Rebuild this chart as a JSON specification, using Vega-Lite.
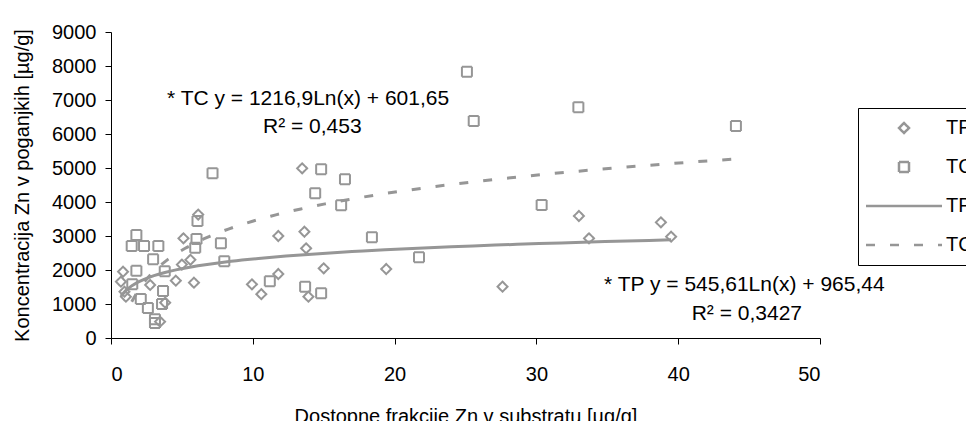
{
  "$schema": "https://vega.github.io/schema/vega-lite/v6.json",
  "width": 709,
  "height": 306,
  "autosize": {"type": "none"},
  "padding": {"left": 111, "top": 32, "right": 146, "bottom": 83},
  "background": "white",
  "config": {
    "font": "Liberation Sans",
    "view": {"stroke": null},
    "axis": {
      "grid": false,
      "domainColor": "black",
      "tickColor": "black",
      "labelColor": "black",
      "titleColor": "black",
      "labelFontSize": 20,
      "titleFontSize": 20,
      "titleFontWeight": "normal",
      "labelFont": "Liberation Sans",
      "titleFont": "Liberation Sans",
      "tickSize": 6
    }
  },
  "datasets": {
    "pts": [
      {"x": 0.7, "y": 1656, "series": "TP"},
      {"x": 0.85, "y": 1950, "series": "TP"},
      {"x": 0.95, "y": 1362, "series": "TP"},
      {"x": 1.05, "y": 1215, "series": "TP"},
      {"x": 2.76, "y": 1560, "series": "TP"},
      {"x": 3.82, "y": 1040, "series": "TP"},
      {"x": 3.46, "y": 480, "series": "TP"},
      {"x": 4.57, "y": 1686, "series": "TP"},
      {"x": 5.0, "y": 2160, "series": "TP"},
      {"x": 5.11, "y": 2932, "series": "TP"},
      {"x": 5.6, "y": 2300, "series": "TP"},
      {"x": 5.85, "y": 1627, "series": "TP"},
      {"x": 6.15, "y": 3630, "series": "TP"},
      {"x": 9.94, "y": 1578, "series": "TP"},
      {"x": 10.6, "y": 1290, "series": "TP"},
      {"x": 11.8, "y": 3000, "series": "TP"},
      {"x": 11.8, "y": 1882, "series": "TP"},
      {"x": 13.48, "y": 4990, "series": "TP"},
      {"x": 13.64, "y": 3126, "series": "TP"},
      {"x": 13.76, "y": 2637, "series": "TP"},
      {"x": 13.92, "y": 1216, "series": "TP"},
      {"x": 15.0, "y": 2049, "series": "TP"},
      {"x": 19.41, "y": 2029, "series": "TP"},
      {"x": 27.61, "y": 1510, "series": "TP"},
      {"x": 33.0, "y": 3588, "series": "TP"},
      {"x": 33.71, "y": 2932, "series": "TP"},
      {"x": 38.78, "y": 3402, "series": "TP"},
      {"x": 39.5, "y": 2980, "series": "TP"},
      {"x": 1.79, "y": 3030, "series": "TC"},
      {"x": 1.46, "y": 2706, "series": "TC"},
      {"x": 2.33, "y": 2706, "series": "TC"},
      {"x": 3.34, "y": 2706, "series": "TC"},
      {"x": 2.97, "y": 2314, "series": "TC"},
      {"x": 1.79, "y": 1980, "series": "TC"},
      {"x": 3.79, "y": 1960, "series": "TC"},
      {"x": 1.5, "y": 1580, "series": "TC"},
      {"x": 3.67, "y": 1382, "series": "TC"},
      {"x": 2.1, "y": 1150, "series": "TC"},
      {"x": 2.6, "y": 880, "series": "TC"},
      {"x": 3.6, "y": 1000, "series": "TC"},
      {"x": 3.1, "y": 550, "series": "TC"},
      {"x": 3.1, "y": 440, "series": "TC"},
      {"x": 5.94, "y": 2656, "series": "TC"},
      {"x": 6.03, "y": 2912, "series": "TC"},
      {"x": 6.1, "y": 3441, "series": "TC"},
      {"x": 7.16, "y": 4843, "series": "TC"},
      {"x": 7.75, "y": 2785, "series": "TC"},
      {"x": 7.99, "y": 2260, "series": "TC"},
      {"x": 11.2, "y": 1666, "series": "TC"},
      {"x": 13.69, "y": 1510, "series": "TC"},
      {"x": 14.4, "y": 4255, "series": "TC"},
      {"x": 14.82, "y": 4960, "series": "TC"},
      {"x": 14.82, "y": 1314, "series": "TC"},
      {"x": 16.23, "y": 3902, "series": "TC"},
      {"x": 16.5, "y": 4667, "series": "TC"},
      {"x": 18.4, "y": 2961, "series": "TC"},
      {"x": 21.72, "y": 2372, "series": "TC"},
      {"x": 25.1, "y": 7833, "series": "TC"},
      {"x": 25.58, "y": 6382, "series": "TC"},
      {"x": 30.37, "y": 3912, "series": "TC"},
      {"x": 32.96, "y": 6785, "series": "TC"},
      {"x": 44.07, "y": 6235, "series": "TC"}
    ],
    "notes": [
      {"x": 3.95, "y": 7040, "text": "* TC y = 1216,9Ln(x) + 601,65"},
      {"x": 10.72, "y": 6194, "text": "R² = 0,453"},
      {"x": 34.77, "y": 1547, "text": "* TP y = 545,61Ln(x) + 965,44"},
      {"x": 40.95, "y": 694, "text": "R² = 0,3427"}
    ]
  },
  "encoding": {
    "x": {
      "field": "x",
      "type": "quantitative",
      "scale": {"domain": [0, 50], "nice": false},
      "axis": {
        "title": "Dostopne frakcije Zn v substratu [µg/g]",
        "values": [0, 10, 20, 30, 40, 50],
        "labelPadding": 20,
        "titlePadding": 22
      }
    },
    "y": {
      "field": "y",
      "type": "quantitative",
      "scale": {"domain": [0, 9000], "nice": false},
      "axis": {
        "title": "Koncentracija Zn v poganjkih [µg/g]",
        "values": [0, 1000, 2000, 3000, 4000, 5000, 6000, 7000, 8000, 9000],
        "format": "d",
        "labelPadding": 9,
        "titlePadding": 19
      }
    }
  },
  "layer": [
    {
      "data": {"name": "pts"},
      "transform": [
        {"filter": "datum.series == 'TP'"},
        {"regression": "y", "on": "x", "method": "log"}
      ],
      "mark": {"type": "line", "color": "#969696", "strokeWidth": 3, "strokeCap": "butt"},
      "encoding": {}
    },
    {
      "data": {"name": "pts"},
      "transform": [
        {"filter": "datum.series == 'TC'"},
        {"regression": "y", "on": "x", "method": "log"}
      ],
      "mark": {"type": "line", "color": "#969696", "strokeWidth": 3, "strokeCap": "butt", "strokeDash": [9, 15]},
      "encoding": {}
    },
    {
      "data": {"name": "pts"},
      "mark": {"type": "point", "filled": false, "color": "#969696", "strokeWidth": 2, "opacity": 1, "size": 100},
      "encoding": {
        "strokeDash": {
          "field": "series",
          "type": "nominal",
          "scale": {
            "domain": ["TP", "TC", "TP trend", "TC trend"],
            "range": [[1, 0], [1, 0], [1, 0], [9, 15]]
          },
          "legend": {
            "orient": "none",
            "legendX": 747,
            "legendY": 76,
            "title": null,
            "strokeColor": "black",
            "padding": 10,
            "symbolOffset": 26,
            "labelOffset": 32,
            "rowPadding": 19,
            "labelFontSize": 20,
            "labelFont": "Liberation Sans",
            "labelColor": "black",
            "symbolSize": 100,
            "symbolStrokeWidth": 2.5,
            "symbolStrokeColor": "#969696",
            "labelExpr": "substring(datum.label, 0, 2)"
          }
        },
        "shape": {
          "field": "series",
          "type": "nominal",
          "scale": {
            "domain": ["TP", "TC", "TP trend", "TC trend"],
            "range": ["diamond", "square", "M-7.6,0H7.6", "M-7.6,0H7.6"]
          },
          "legend": {
            "orient": "none",
            "legendX": 747,
            "legendY": 76,
            "title": null,
            "strokeColor": "black",
            "padding": 10,
            "symbolOffset": 26,
            "labelOffset": 32,
            "rowPadding": 19,
            "labelFontSize": 20,
            "labelFont": "Liberation Sans",
            "labelColor": "black",
            "symbolSize": 100,
            "symbolStrokeWidth": 2.5,
            "symbolStrokeColor": "#969696",
            "labelExpr": "substring(datum.label, 0, 2)"
          }
        }
      }
    },
    {
      "data": {"name": "notes"},
      "mark": {"type": "text", "fontSize": 21, "font": "Liberation Sans", "color": "black", "baseline": "middle", "align": "left"},
      "encoding": {
        "text": {"field": "text", "type": "nominal"}
      }
    }
  ]
}
